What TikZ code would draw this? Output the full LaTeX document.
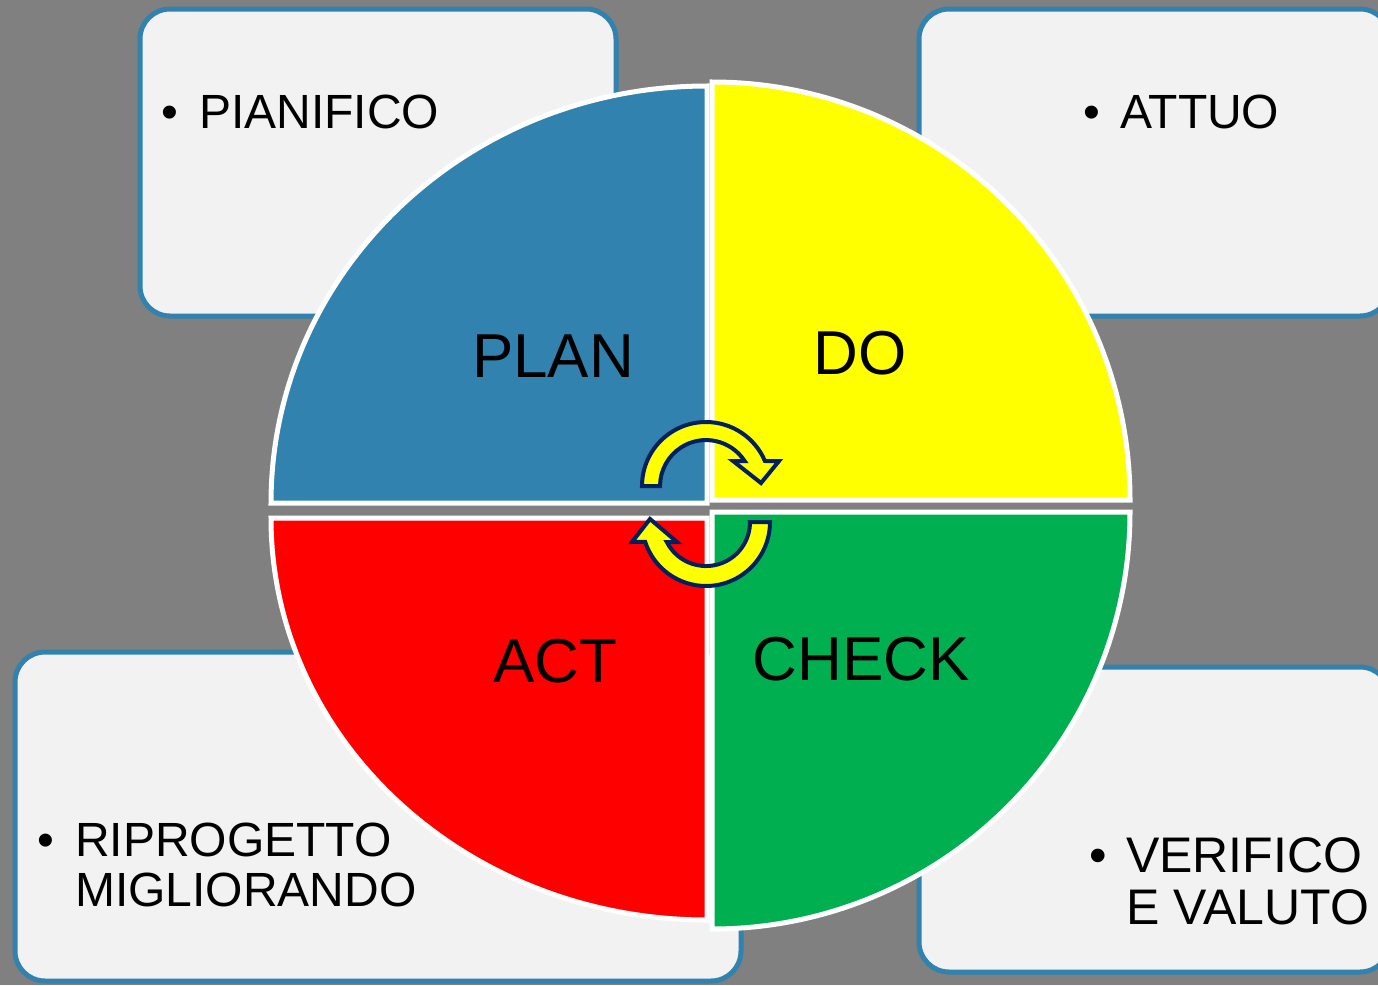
\documentclass[tikz,border=0pt]{standalone}
\usepackage{fontspec}
\setmainfont{Liberation Sans}
\definecolor{bggray}{HTML}{808080}
\definecolor{planblue}{HTML}{3182AE}
\definecolor{boxfill}{HTML}{F2F2F2}
\definecolor{doyellow}{HTML}{FFFF00}
\definecolor{actred}{HTML}{FF0000}
\definecolor{checkgreen}{HTML}{00B050}
\definecolor{arrownavy}{HTML}{002060}
\tikzset{
  notebox/.style={draw=planblue, fill=boxfill, line width=5pt, rounded corners=30pt},
  quadrant/.style={draw=white, line width=5pt},
  phase/.style={anchor=base, inner sep=0pt, font=\fontsize{62}{62}\selectfont},
  note/.style={anchor=base west, inner sep=0pt, font=\fontsize{48}{50}\selectfont},
  cyclearrow/.style={fill=doyellow, draw=arrownavy, line width=4pt}
}
\newcommand{\bulletitem}[2]{\makebox[#1][l]{\textbullet}#2}
\begin{document}
\begin{tikzpicture}[x=1pt,y=-1pt]
                \useasboundingbox (0,0) rectangle (1378,985);
                \clip (0,0) rectangle (1378,985);
                \fill[bggray] (0,0) rectangle (1378,985);
                \draw[notebox] (140,9) rectangle (616,316);
                \draw[notebox] (919,9) rectangle (1390,316);
                \draw[notebox] (15,652) rectangle (741,981);
                \draw[notebox] (919,667) rectangle (1390,972);
                \filldraw[quadrant, fill=planblue] (707,503) -- ++(-436,0) arc[start angle=180, end angle=270, x radius=436, y radius=417] -- cycle;
                \filldraw[quadrant, fill=doyellow] (712,500) -- ++(0,-418) arc[start angle=270, end angle=360, radius=418] -- cycle;
                \filldraw[quadrant, fill=checkgreen] (712,512) -- ++(418,0) arc[start angle=0, end angle=90, x radius=418, y radius=417] -- cycle;
                \filldraw[quadrant, fill=actred] (707,518) -- ++(0,402) arc[start angle=90, end angle=180, x radius=436, y radius=402] -- cycle;
                \filldraw[cyclearrow] (642,486) arc[start angle=180, end angle=337, radius=64] -- (779,461) -- (761,483) -- (733,461) -- (744.6,461) arc[start angle=327, end angle=180, radius=46] -- cycle;
                \filldraw[cyclearrow] (750,522) -- (770,522) arc[start angle=0, end angle=162, radius=64] -- (632,542) -- (650,519) -- (677,542) -- (666.8,542) arc[start angle=153, end angle=0, radius=44] -- cycle;
                \node[phase] (plan) at (553,377) {PLAN};
                \node[phase] (do) at (860,374) {DO};
                \node[phase] (act) at (555,682) {ACT};
                \node[phase] (check) at (861,680) {CHECK};
                \node[note] (pianifico) at (161,128) {\bulletitem{38pt}{PIANIFICO}};
                \node[note] (attuo) at (1083,128) {\bulletitem{37pt}{ATTUO}};
                \node[note] (riprogetto) at (37,856) {\bulletitem{38pt}{\begin{tabular}[t]{@{}l@{}}RIPROGETTO\\MIGLIORANDO\end{tabular}}};
                \node[note, font=\fontsize{50}{52}\selectfont] (verifico) at (1089,872) {\bulletitem{37pt}{\begin{tabular}[t]{@{}l@{}}VERIFICO\\E VALUTO\end{tabular}}};
            \end{tikzpicture}
\end{document}
